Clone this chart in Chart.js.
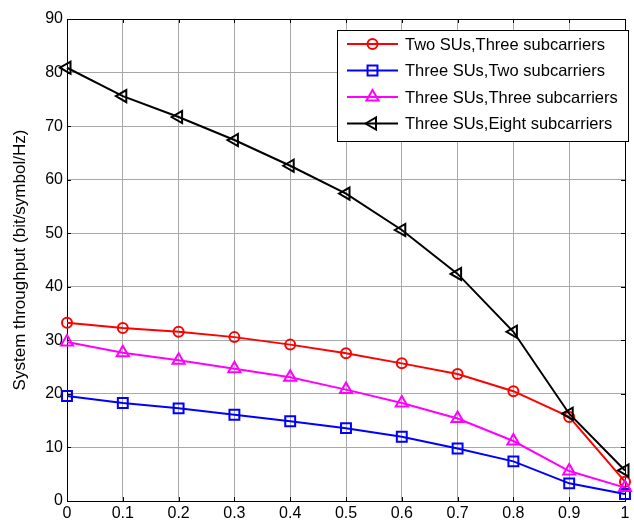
<!DOCTYPE html>
<html>
<head>
<meta charset="utf-8">
<script src="https://cdn.jsdelivr.net/npm/chart.js@4/dist/chart.umd.min.js"></script>
<style>
  html, body { margin: 0; padding: 0; background: #fff; }
  #chart { display: block; }
</style>
</head>
<body>
<canvas id="chart" width="634" height="524"></canvas>
<script>
// values
const xValues = [0, 0.1, 0.2, 0.3, 0.4, 0.5, 0.6, 0.7, 0.8, 0.9, 1];
const twoSUsThreeSub = [33.3, 32.3, 31.6, 30.6, 29.2, 27.6, 25.7, 23.7, 20.5, 15.7, 3.6];
const threeSUsTwoSub = [19.6, 18.3, 17.3, 16.1, 14.9, 13.6, 12.0, 9.8, 7.4, 3.3, 1.3];
const threeSUsThreeSub = [29.7, 27.7, 26.3, 24.7, 23.1, 20.8, 18.3, 15.4, 11.2, 5.6, 2.5];
const threeSUsEightSub = [80.9, 75.6, 71.7, 67.4, 62.6, 57.4, 50.6, 42.4, 31.6, 16.3, 5.7];
const seriesLabels = [
  'Two SUs,Three subcarriers',
  'Three SUs,Two subcarriers',
  'Three SUs,Three subcarriers',
  'Three SUs,Eight subcarriers',
];
const xTickLabels = ['0', '0.1', '0.2', '0.3', '0.4', '0.5', '0.6', '0.7', '0.8', '0.9', '1'];
const yTickLabels = ['0', '10', '20', '30', '40', '50', '60', '70', '80', '90'];

const FONT = "'Liberation Sans', Arial, Helvetica, sans-serif";

const toPoints = (ys) => ys.map((y, i) => ({ x: xValues[i], y }));

const series = (label, values, color, style, radius, rotation, order) => ({
  label,
  data: toPoints(values),
  borderColor: color,
  backgroundColor: color,
  borderWidth: 2,
  pointStyle: style,
  pointRadius: radius,
  pointRotation: rotation,
  pointBorderColor: color,
  pointBackgroundColor: 'rgba(0,0,0,0)',
  pointBorderWidth: 2,
  tension: 0,
  clip: false,
  order,
});

// box round the plot with small inward ticks, like the matlab axes
const boxPlugin = {
  id: 'box',
  beforeDatasetsDraw(chart) {
    const { ctx, chartArea: a, scales } = chart;
    ctx.save();
    ctx.strokeStyle = '#000';
    ctx.lineWidth = 1;
    ctx.strokeRect(Math.round(a.left) + 0.5, Math.round(a.top) + 0.5,
      Math.round(a.right - a.left), Math.round(a.bottom - a.top));
    const len = 4;
    ctx.beginPath();
    scales.x.ticks.forEach((t) => {
      const px = Math.round(scales.x.getPixelForValue(t.value)) + 0.5;
      ctx.moveTo(px, a.bottom); ctx.lineTo(px, a.bottom - len);
      ctx.moveTo(px, a.top); ctx.lineTo(px, a.top + len);
    });
    scales.y.ticks.forEach((t) => {
      const py = Math.round(scales.y.getPixelForValue(t.value)) + 0.5;
      ctx.moveTo(a.left, py); ctx.lineTo(a.left + len, py);
      ctx.moveTo(a.right, py); ctx.lineTo(a.right - len, py);
    });
    ctx.stroke();
    ctx.restore();
  },
  afterDraw(chart) {
    // legend box in the upper right corner
    const { ctx } = chart;
    const box = { left: 337, top: 30, right: 628, bottom: 141 };
    ctx.save();
    ctx.fillStyle = '#fff';
    ctx.fillRect(box.left, box.top, box.right - box.left, box.bottom - box.top);
    ctx.strokeStyle = '#000';
    ctx.lineWidth = 1;
    ctx.strokeRect(box.left + 0.5, box.top + 0.5, box.right - box.left, box.bottom - box.top);
    const rowY = [44, 70.5, 97, 123.5];
    chart.data.datasets.forEach((ds, i) => {
      const y = rowY[i];
      ctx.strokeStyle = ds.borderColor;
      ctx.lineWidth = 2;
      ctx.beginPath();
      ctx.moveTo(347, y);
      ctx.lineTo(398, y);
      ctx.stroke();
      ctx.fillStyle = 'rgba(0,0,0,0)';
      Chart.helpers.drawPoint(ctx, {
        pointStyle: ds.pointStyle,
        radius: ds.pointRadius,
        rotation: ds.pointRotation,
        borderWidth: 2,
      }, 372.5, y);
      ctx.fillStyle = '#000';
      ctx.font = '16.5px ' + FONT;
      ctx.textBaseline = 'middle';
      ctx.textAlign = 'left';
      ctx.fillText(ds.label, 405, y + 1);
    });
    ctx.restore();
  },
};

const config = {
  type: 'line',
  data: {
    datasets: [
      series(seriesLabels[0], twoSUsThreeSub, '#ff0000', 'circle', 5, 0, 4),
      series(seriesLabels[1], threeSUsTwoSub, '#0000ff', 'rect', 7, 0, 3),
      series(seriesLabels[2], threeSUsThreeSub, '#ff00ff', 'triangle', 7, 0, 2),
      series(seriesLabels[3], threeSUsEightSub, '#000000', 'triangle', 7, -90, 1),
    ],
  },
  options: {
    responsive: false,
    animation: false,
    layout: { padding: { top: 19, right: 3, left: 0, bottom: 0 } },
    plugins: {
      legend: { display: false },
      tooltip: { enabled: false },
    },
    scales: {
      x: {
        type: 'linear',
        min: 0,
        max: 1,
        afterFit: (scale) => { scale.height = 23; },
        grid: { color: '#a8a8a8', lineWidth: 1, drawTicks: false },
        border: { display: false },
        ticks: {
          stepSize: 0.1,
          padding: 3,
          color: '#000',
          font: { family: FONT, size: 16 },
          maxRotation: 0,
          autoSkip: false,
          callback: (v) => xTickLabels[Math.round(v * 10)],
        },
      },
      y: {
        type: 'linear',
        min: 0,
        max: 90,
        afterFit: (scale) => { scale.width = 67; },
        grid: { color: '#a8a8a8', lineWidth: 1, drawTicks: false },
        border: { display: false },
        ticks: {
          stepSize: 10,
          padding: 4,
          color: '#000',
          font: { family: FONT, size: 16 },
          callback: (v) => yTickLabels[Math.round(v / 10)],
        },
        title: {
          display: true,
          text: 'System throughput (bit/symbol/Hz)',
          color: '#000',
          font: { family: FONT, size: 17 },
          padding: { top: 10, bottom: 0 },
        },
      },
    },
  },
  plugins: [boxPlugin],
};

new Chart(document.getElementById('chart'), config);
</script>
</body>
</html>
